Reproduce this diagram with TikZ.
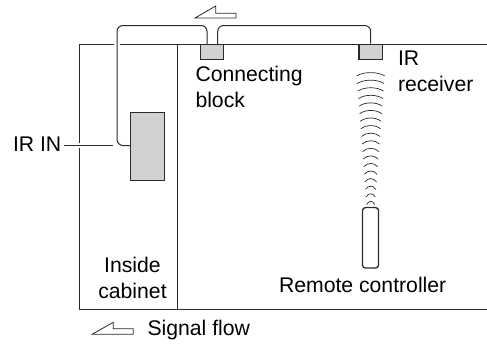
\documentclass[tikz,border=0pt]{standalone}
\usepackage{fontspec}
\setmainfont{Liberation Sans}
\usetikzlibrary{arrows.meta,positioning,calc}
\definecolor{irgray}{HTML}{D0D1D3}
\definecolor{irink}{HTML}{2A2A2A}
\begin{document}
\begin{tikzpicture}[
  x=1pt, y=-1pt,
  font=\fontsize{21.2}{25.8}\selectfont,
  line width=1pt,
  color=irink,
  block/.style={draw=irink, fill=irgray, inner sep=0pt, line width=1.1pt},
  label/.style={inner sep=0pt, text=black, align=left, anchor=base west},
  wire/.style={rounded corners=6pt, line width=1pt},
  wave/.style={line width=0.7pt},
  flowarrow/.style={line width=0.8pt, line join=miter}
]
\useasboundingbox (0,0) rectangle (487,343);
% cabinet outline, broken where the wires pass
\coordinate (tl) at (79.5,44);
\coordinate (tr) at (487,44);
\coordinate (bl) at (79.5,309);
\coordinate (br) at (487,309);
\draw (114,44) -- (tl) -- (79.5,142.7);
\draw (79.5,148) -- (bl) -- (br);
\draw (120,44) -- (tr);
\draw (177.7,44) -- (177.7,309);
\node[block, minimum width=34pt, minimum height=68pt] (unit) at (147.6,146.8) {};
\node[block, minimum width=23.5pt, minimum height=15.5pt] (connblock) at (211.8,51.8) {};
\node[block, minimum width=23.5pt, minimum height=15.5pt] (receiver) at (370.7,51.8) {};
\draw[wire] (unit.west |- 0,145.5) -- (117,145.5) -- (117,25.5) -- (207,25.5) -- (207,44);
\draw[wire] (217.7,44) -- (217.7,25.5) -- (370.7,25.5) -- (receiver.north);
\coordinate (irend) at (113,145.5);
\node[label] (irin) at (12.5,151.8) {IR IN};
\draw (irin.east |- irend) ++(2.5,0) -- (irend);
% waves from the remote
\foreach \i in {0,...,17}{
  \pgfmathsetmacro{\wy}{73.3+7.57*\i}
  \pgfmathsetmacro{\wh}{14-0.59*\i}
  \draw[wave] (370.7-\wh,\wy+2.6) .. controls (370.7-\wh/2,\wy-1.8) and (370.7+\wh/2,\wy-1.8) .. (370.7+\wh,\wy+2.6);
}
\node[draw=irink, line width=1.3pt, rounded corners=3pt, minimum width=16pt, minimum height=60.5pt, inner sep=0pt] (remote) at (370.5,237.8) {};
\node[label] (connlabel) at (195,107.5) {Connecting\\block};
\node[label] (irlabel) at (397.5,91.7) {IR\\receiver};
\node[label, align=center, anchor=base] (cablabel) at (132.5,298) {Inside\\cabinet};
\node[label] (remlabel) at (278.5,292.7) {Remote controller};
\node[label] (flowlabel) at (147,335) {Signal flow};
% flow arrows
\draw[flowarrow] (195,18) -- (215.7,6) -- (215.7,13.3) -- (236,13.3) -- (236,18) -- cycle;
\draw[flowarrow] (92,334.3) -- (113.3,322.3) -- (113.3,328.7) -- (133.3,328.7) -- (133.3,334.3) -- cycle;
\end{tikzpicture}
\end{document}
